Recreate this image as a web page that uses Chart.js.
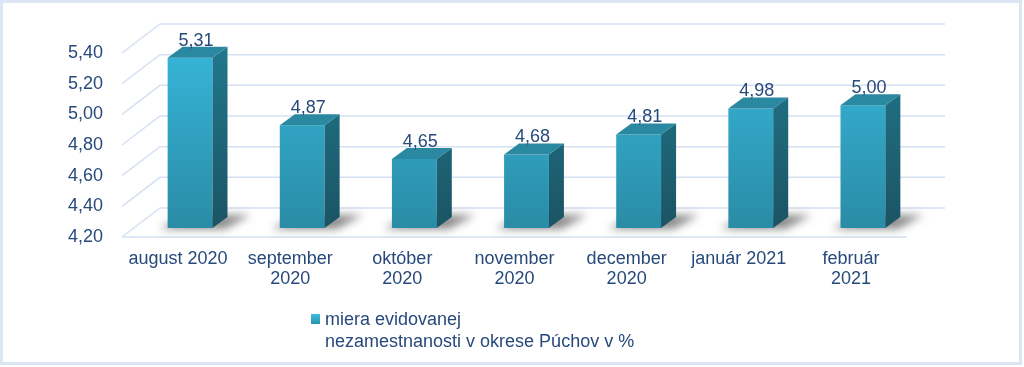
<!DOCTYPE html>
<html>
<head>
<meta charset="utf-8">
<script src="https://cdn.jsdelivr.net/npm/chart.js@4.4.1/dist/chart.umd.min.js"></script>
<style>
  html, body { margin: 0; padding: 0; background: #ffffff; }
  #wrap { width: 1024px; height: 367px; position: relative; }
  canvas { display: block; }
</style>
</head>
<body>
<div id="wrap"><canvas id="c" width="1024" height="367"></canvas></div>
<script>
// ---- data ----
const categories = [
  'august 2020',
  ['september', '2020'],
  ['október', '2020'],
  ['november', '2020'],
  ['december', '2020'],
  'január 2021',
  ['február', '2021']
];
const values = [5.31, 4.87, 4.65, 4.68, 4.81, 4.98, 5.00];
const seriesLabel = ['miera evidovanej', 'nezamestnanosti v okrese Púchov v %'];
const yMin = 4.2, yMax = 5.4, yStep = 0.2;

// ---- style ----
const TEXT = '#27497c';
const FONT = 'Liberation Sans, Arial, sans-serif';
const GRID = '#d5e1f2';
const WALL = { dx: 38, dy: -29 };
const SHIFT = { dx: 12, dy: -9 };
const DEPTH = { dx: 15, dy: -11 };
const fmt = v => v.toFixed(2).replace('.', ',');

function grad(ctx, top, bottom, c1, c2) {
  const g = ctx.createLinearGradient(0, top, 0, bottom);
  g.addColorStop(0, c1); g.addColorStop(1, c2);
  return g;
}

const threeD = {
  id: 'threeD',
  beforeDraw(chart) {
    const { ctx, chartArea: ca } = chart;
    const y = chart.scales.y;
    ctx.save();
    ctx.fillStyle = '#fff';
    ctx.fillRect(0, 0, chart.width, chart.height);
    // outer frame
    ctx.strokeStyle = '#dbe5f3';
    ctx.lineWidth = 3;
    ctx.strokeRect(1.5, 1.5, 1019, 362);
    // walls
    ctx.strokeStyle = GRID;
    ctx.lineWidth = 1.5;
    y.ticks.forEach(t => {
      const yf = y.getPixelForValue(t.value);
      ctx.beginPath();
      ctx.moveTo(ca.left, yf);
      ctx.lineTo(ca.left + WALL.dx, yf + WALL.dy);
      ctx.lineTo(ca.right + WALL.dx, yf + WALL.dy);
      ctx.stroke();
    });
    ctx.beginPath();
    ctx.moveTo(ca.left, ca.bottom);
    ctx.lineTo(ca.right, ca.bottom);
    ctx.stroke();
    ctx.restore();
  },
  beforeDatasetsDraw(chart) {
    const { ctx, chartArea: ca } = chart;
    const meta = chart.getDatasetMeta(0);
    ctx.save();
    ctx.translate(SHIFT.dx, SHIFT.dy);
    // shadows
    ctx.save();
    ctx.filter = 'blur(4px)';
    ctx.fillStyle = 'rgba(40,40,40,0.55)';
    meta.data.forEach(bar => {
      const l = bar.x - bar.width / 2, r = bar.x + bar.width / 2;
      const b = Math.min(bar.base, ca.bottom);
      ctx.beginPath();
      ctx.moveTo(l - 8, b + 1);
      ctx.lineTo(r + 12, b + 1);
      ctx.lineTo(r + 38, b - 13);
      ctx.lineTo(l + 18, b - 13);
      ctx.closePath();
      ctx.fill();
    });
    ctx.restore();
  },
  afterDatasetsDraw(chart) {
    const { ctx, chartArea: ca } = chart;
    const meta = chart.getDatasetMeta(0);
    meta.data.forEach(bar => {
      const l = bar.x - bar.width / 2, r = bar.x + bar.width / 2;
      const t = bar.y, b = Math.min(bar.base, ca.bottom);
      // side face
      ctx.fillStyle = grad(ctx, ca.top, ca.bottom, '#21788d', '#1a5464');
      ctx.beginPath();
      ctx.moveTo(r, t);
      ctx.lineTo(r + DEPTH.dx, t + DEPTH.dy);
      ctx.lineTo(r + DEPTH.dx, b + DEPTH.dy);
      ctx.lineTo(r, b);
      ctx.closePath();
      ctx.fill();
      // top face
      ctx.fillStyle = '#2a88a0';
      ctx.beginPath();
      ctx.moveTo(l, t);
      ctx.lineTo(l + DEPTH.dx, t + DEPTH.dy);
      ctx.lineTo(r + DEPTH.dx, t + DEPTH.dy);
      ctx.lineTo(r, t);
      ctx.closePath();
      ctx.fill();
    });
    ctx.restore();
    // value labels
    ctx.save();
    ctx.fillStyle = TEXT;
    ctx.font = '18px ' + FONT;
    ctx.textAlign = 'center';
    ctx.textBaseline = 'middle';
    meta.data.forEach((bar, i) => {
      ctx.fillText(fmt(values[i]), bar.x + SHIFT.dx + 6, bar.y + SHIFT.dy - 17);
    });
    ctx.restore();
  },
  afterDraw(chart) {
    const { ctx } = chart;
    ctx.save();
    ctx.fillStyle = grad(ctx, 314, 324, '#3fbde0', '#2a92ad');
    ctx.fillRect(311, 314, 9, 10);
    ctx.fillStyle = TEXT;
    ctx.font = '18px ' + FONT;
    ctx.textAlign = 'left';
    ctx.textBaseline = 'middle';
    seriesLabel.forEach((s, i) => ctx.fillText(s, 325, 320 + i * 22));
    ctx.restore();
  }
};

new Chart(document.getElementById('c'), {
  type: 'bar',
  data: {
    labels: categories,
    datasets: [{
      label: seriesLabel.join(' '),
      data: values,
      backgroundColor: ctx => {
        const ca = ctx.chart.chartArea;
        if (!ca) return '#33b0d2';
        return grad(ctx.chart.ctx, ca.top, ca.bottom, '#37b6da', '#2a8ca6');
      },
      borderWidth: 0,
      categoryPercentage: 1.0,
      barPercentage: 0.4
    }]
  },
  options: {
    responsive: false,
    animation: false,
    layout: { padding: { left: 0, right: 117, top: 53, bottom: 0 } },
    plugins: { legend: { display: false }, tooltip: { enabled: false } },
    scales: {
      y: {
        min: yMin, max: yMax,
        afterFit: s => { s.width = 122; },
        grid: { display: false, drawTicks: false },
        border: { display: false },
        ticks: {
          stepSize: yStep,
          padding: 19,
          color: TEXT,
          font: { size: 18, family: FONT },
          callback: v => fmt(v)
        }
      },
      x: {
        afterFit: s => { s.height = 130; },
        grid: { display: false, drawTicks: false },
        border: { display: false },
        ticks: {
          padding: 12,
          color: TEXT,
          maxRotation: 0,
          autoSkip: false,
          font: { size: 18, family: FONT, lineHeight: 1.12 }
        }
      }
    }
  },
  plugins: [threeD]
});
</script>
</body>
</html>
